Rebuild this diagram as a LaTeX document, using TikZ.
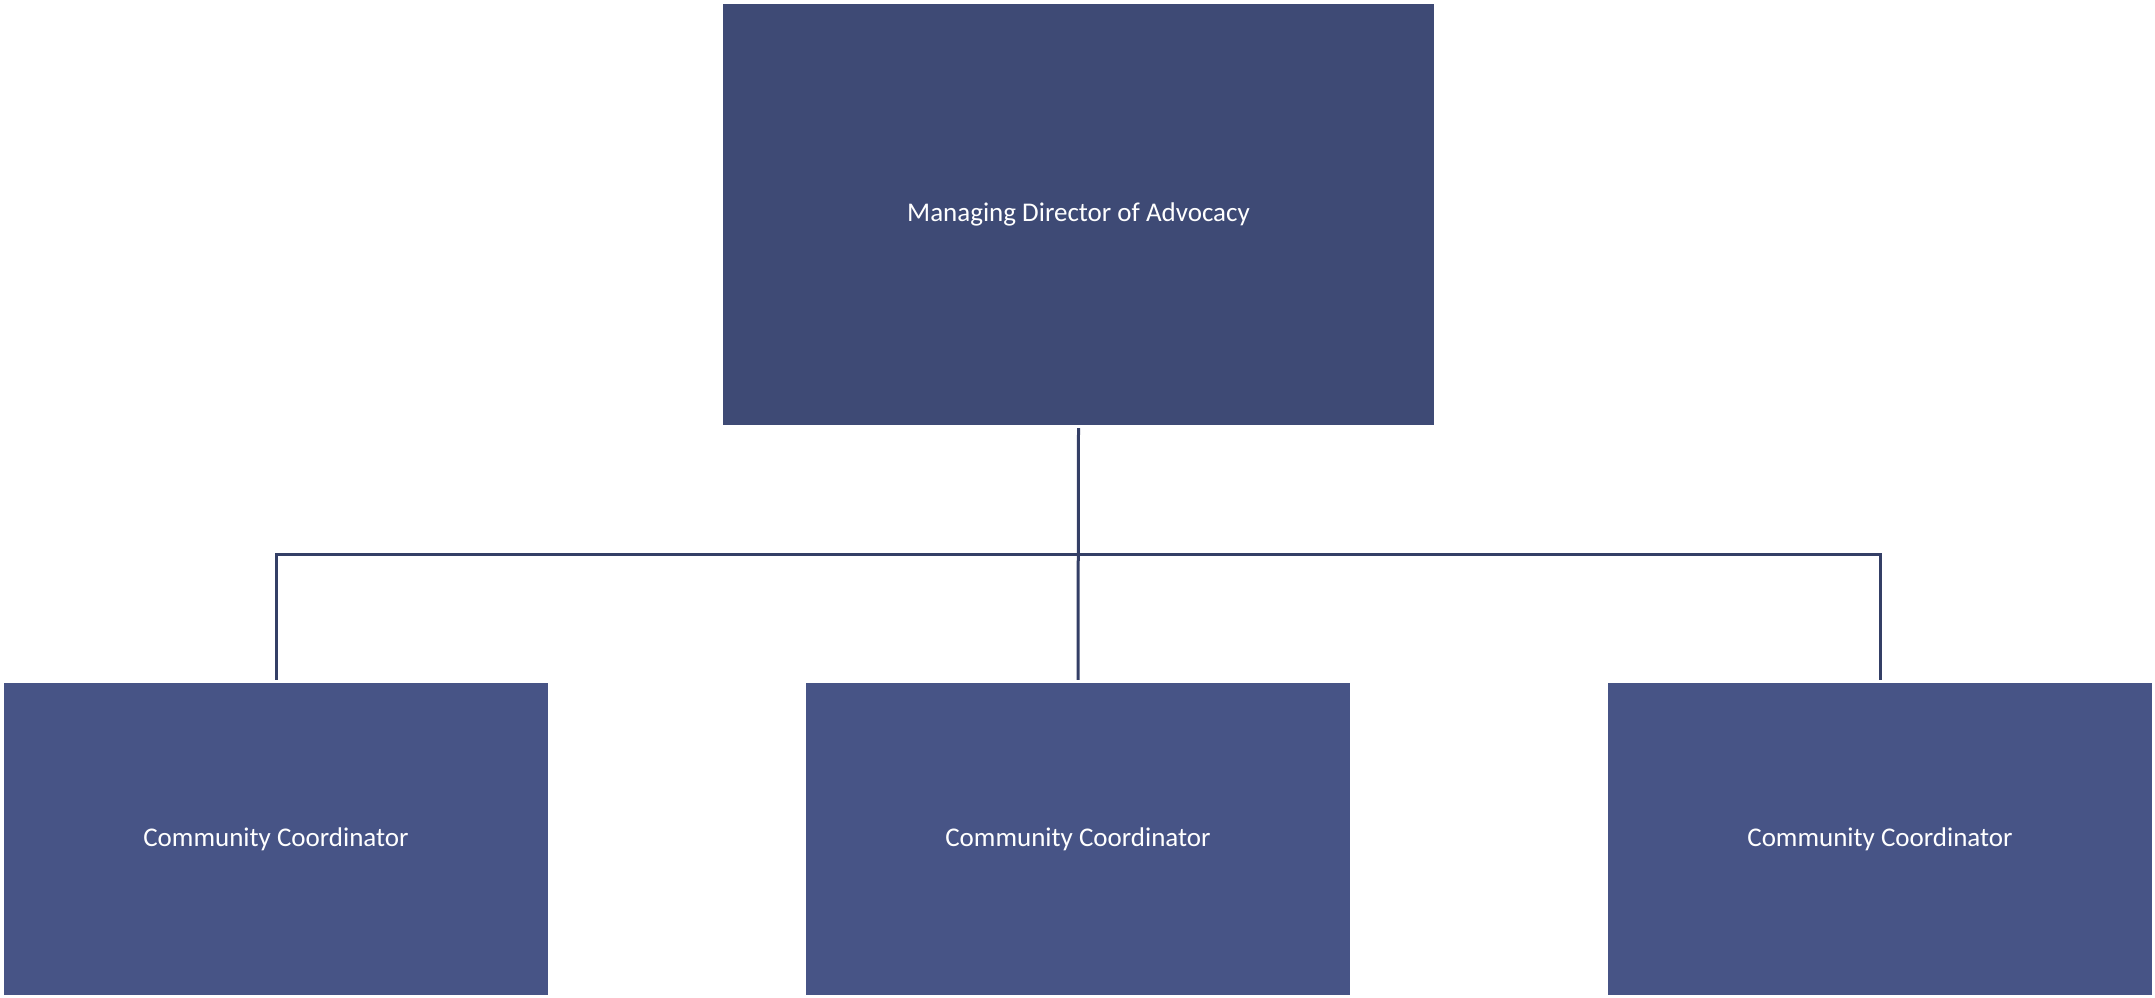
\documentclass[tikz,border=0pt]{standalone}
\usepackage{fontspec}
\setmainfont{Carlito}
\usepackage{xcolor}
\definecolor{headblue}{HTML}{3E4A75}
\definecolor{unitblue}{HTML}{475486}
\definecolor{linkblue}{HTML}{343F66}

\begin{document}
\begin{tikzpicture}[x=1pt,y=-1pt,line join=miter]
        \tikzset{head box/.style={fill=headblue,text=white,inner sep=0pt,minimum width=711pt,minimum height=421pt,font=\fontsize{27}{32}\selectfont},
                 unit box/.style={fill=unitblue,text=white,inner sep=0pt,minimum width=544pt,minimum height=312pt,font=\fontsize{27}{32}\selectfont},
                 link/.style={draw=linkblue,line width=3pt}}
        \useasboundingbox (0,0) rectangle (2155,997);
        % boxes
        \node[head box] (director) at (1078.5,214.5) {Managing Director of Advocacy};
        \node[unit box] (coordA) at (276,839) {Community Coordinator};
        \node[unit box] (coordB) at (1078,839) {Community Coordinator};
        \node[unit box] (coordC) at (1880,839) {Community Coordinator};
        \coordinate (bus) at (1079,554);
        % connectors
        \draw[link] ([yshift=-3pt]director.south) -- ([yshift=3pt]coordB.north);
        \draw[link] ([yshift=3pt]coordA.north) |- (bus) -| ([yshift=3pt]coordC.north);
\end{tikzpicture}
\end{document}
